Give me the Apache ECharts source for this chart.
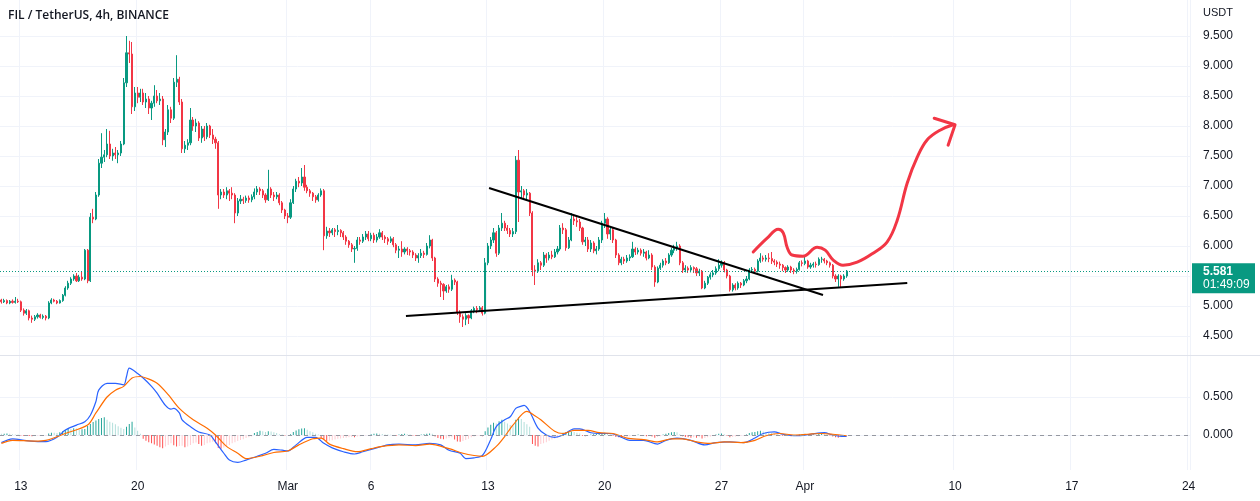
<!DOCTYPE html>
<html><head><meta charset="utf-8">
<script src="https://cdn.jsdelivr.net/npm/echarts/dist/echarts.min.js"></script>
<style>html,body{margin:0;padding:0;background:#fff}#c{width:1260px;height:501px}</style>
</head><body><div id="c"></div>
<script>
// ---- data ----
const opens = [
5.10,5.07,5.09,5.05,5.08,5.06,5.08,5.07,4.93,4.88,
4.92,4.80,4.78,4.82,4.85,4.81,4.83,4.80,5.05,5.10,
5.08,5.05,5.09,5.18,5.30,5.38,5.45,5.50,5.42,5.48,
5.45,5.93,5.42,6.48,6.45,6.85,7.38,7.48,7.52,7.70,
7.50,7.55,7.52,7.55,7.70,8.72,9.22,9.20,8.32,8.55,
8.48,8.55,8.40,8.45,8.30,8.38,8.50,8.42,8.45,7.77,
7.90,8.27,8.13,8.73,8.78,8.40,7.62,7.68,7.72,8.10,
8.00,8.05,7.80,7.95,7.82,8.00,7.85,7.78,7.72,6.85,
6.90,6.85,6.92,6.88,6.85,6.55,6.75,6.78,6.76,6.80,
6.77,6.82,6.90,6.95,6.92,6.85,6.77,6.95,6.85,6.82,
6.85,6.72,6.60,6.50,6.48,6.72,6.95,7.08,7.05,7.15,
6.98,6.92,6.88,6.82,6.77,6.85,6.92,6.17,6.25,6.22,
6.27,6.24,6.26,6.22,6.15,6.08,6.02,5.95,5.96,6.10,
6.08,6.15,6.20,6.12,6.18,6.10,6.15,6.22,6.15,6.12,
6.08,6.12,6.02,5.93,5.95,5.90,5.95,5.92,5.90,5.85,
5.80,5.84,5.88,5.86,6.00,6.10,5.80,5.45,5.38,5.36,
5.25,5.32,5.28,5.43,5.40,4.90,4.82,4.78,4.84,4.80,
4.92,4.96,4.94,4.97,4.88,5.72,6.00,6.10,6.22,5.88,
6.30,6.38,6.30,6.26,6.20,6.24,7.43,6.90,6.92,6.85,
6.88,6.55,5.60,5.58,5.72,5.68,5.85,5.80,5.85,5.82,
5.90,5.95,6.30,6.27,5.97,6.10,6.45,6.42,6.40,6.30,
6.07,6.10,5.95,6.05,5.92,5.95,6.10,6.38,6.45,6.20,
6.27,6.10,5.85,5.72,5.78,5.75,5.80,5.82,5.95,5.90,
5.93,5.88,5.90,5.80,5.85,5.65,5.40,5.63,5.68,5.75,
5.72,5.85,5.93,5.97,6.00,5.72,5.60,5.63,5.60,5.64,
5.62,5.55,5.58,5.30,5.38,5.48,5.52,5.55,5.62,5.68,
5.72,5.60,5.50,5.27,5.35,5.30,5.38,5.35,5.42,5.45,
5.60,5.61,5.58,5.75,5.80,5.78,5.80,5.79,5.75,5.73,
5.70,5.68,5.64,5.60,5.65,5.60,5.58,5.61,5.72,5.71,
5.75,5.65,5.68,5.70,5.69,5.78,5.78,5.75,5.72,5.68,
5.50,5.45,5.50,5.45,5.50];
const closes = [
5.07,5.09,5.05,5.08,5.06,5.08,5.07,4.93,4.88,4.92,
4.80,4.78,4.82,4.85,4.81,4.83,4.80,5.05,5.10,5.08,
5.05,5.09,5.18,5.30,5.38,5.45,5.50,5.42,5.48,5.45,
5.93,5.42,6.48,6.45,6.85,7.38,7.48,7.52,7.70,7.50,
7.55,7.52,7.55,7.70,8.72,9.22,9.20,8.32,8.55,8.48,
8.55,8.40,8.45,8.30,8.38,8.50,8.42,8.45,7.77,7.90,
8.27,8.13,8.73,8.78,8.40,7.62,7.68,7.72,8.10,8.00,
8.05,7.80,7.95,7.82,8.00,7.85,7.78,7.72,6.85,6.90,
6.85,6.92,6.88,6.85,6.55,6.75,6.78,6.76,6.80,6.77,
6.82,6.90,6.95,6.92,6.85,6.77,6.95,6.85,6.82,6.85,
6.72,6.60,6.50,6.48,6.72,6.95,7.08,7.05,7.15,6.98,
6.92,6.88,6.82,6.77,6.85,6.92,6.17,6.25,6.22,6.27,
6.24,6.26,6.22,6.15,6.08,6.02,5.95,5.96,6.10,6.08,
6.15,6.20,6.12,6.18,6.10,6.15,6.22,6.15,6.12,6.08,
6.12,6.02,5.93,5.95,5.90,5.95,5.92,5.90,5.85,5.80,
5.84,5.88,5.86,6.00,6.10,5.80,5.45,5.38,5.36,5.25,
5.32,5.28,5.43,5.40,4.90,4.82,4.78,4.84,4.80,4.92,
4.96,4.94,4.97,4.88,5.72,6.00,6.10,6.22,5.88,6.30,
6.38,6.30,6.26,6.20,6.24,7.43,6.90,6.92,6.85,6.88,
6.55,5.60,5.58,5.72,5.68,5.85,5.80,5.85,5.82,5.90,
5.95,6.30,6.27,5.97,6.10,6.45,6.42,6.40,6.30,6.07,
6.10,5.95,6.05,5.92,5.95,6.10,6.38,6.45,6.20,6.27,
6.10,5.85,5.72,5.78,5.75,5.80,5.82,5.95,5.90,5.93,
5.88,5.90,5.80,5.85,5.65,5.40,5.63,5.68,5.75,5.72,
5.85,5.93,5.97,6.00,5.72,5.60,5.63,5.60,5.64,5.62,
5.55,5.58,5.30,5.38,5.48,5.52,5.55,5.62,5.68,5.72,
5.60,5.50,5.27,5.35,5.30,5.38,5.35,5.42,5.45,5.60,
5.61,5.58,5.75,5.80,5.78,5.80,5.79,5.75,5.73,5.70,
5.68,5.64,5.60,5.65,5.60,5.58,5.61,5.72,5.71,5.75,
5.65,5.68,5.70,5.69,5.78,5.78,5.75,5.72,5.68,5.50,
5.45,5.50,5.45,5.50,5.581];
const highs = [
5.12,5.12,5.11,5.10,5.11,5.15,5.12,5.09,4.96,4.95,
4.94,4.84,4.85,4.88,4.87,4.86,4.85,5.08,5.13,5.12,
5.10,5.11,5.20,5.33,5.42,5.48,5.53,5.55,5.52,5.58,
5.95,5.95,6.55,6.62,6.90,7.45,7.88,7.60,7.95,7.92,
7.62,7.65,7.60,7.75,8.80,9.50,9.42,9.40,8.65,8.65,
8.62,8.62,8.55,8.50,8.42,8.68,8.60,8.55,8.50,7.95,
8.35,8.32,8.80,9.18,8.82,8.45,7.75,7.78,8.30,8.15,
8.12,8.08,8.00,8.00,8.05,8.02,7.95,7.82,7.75,6.95,
6.95,6.98,6.95,6.98,6.88,6.80,6.85,6.82,6.84,6.84,
6.86,6.96,7.00,6.98,6.95,6.88,7.27,6.98,6.90,6.90,
6.88,6.75,6.62,6.55,6.78,7.00,7.12,7.15,7.30,7.35,
7.02,6.95,6.90,6.85,6.88,6.96,6.95,6.32,6.30,6.30,
6.30,6.35,6.28,6.25,6.18,6.10,6.05,6.00,6.15,6.15,
6.20,6.25,6.25,6.22,6.22,6.20,6.28,6.25,6.18,6.15,
6.16,6.15,6.05,6.00,6.08,5.98,5.98,5.95,5.93,5.88,
5.88,5.95,5.92,6.05,6.18,6.12,5.82,5.48,5.42,5.38,
5.35,5.36,5.52,5.46,5.42,4.93,4.86,4.88,4.86,4.95,
4.99,5.00,5.00,5.00,5.80,6.05,6.15,6.30,6.25,6.35,
6.55,6.42,6.35,6.30,6.30,7.50,7.60,7.00,6.95,6.95,
6.90,6.58,5.68,5.78,5.75,5.90,5.88,5.90,5.92,5.95,
6.00,6.35,6.38,6.30,6.15,6.55,6.50,6.48,6.45,6.32,
6.15,6.15,6.10,6.08,6.00,6.15,6.42,6.55,6.48,6.32,
6.30,6.12,5.88,5.82,5.82,5.85,5.86,6.07,5.98,5.97,
5.96,5.95,5.92,5.93,5.88,5.68,5.66,5.72,5.78,5.80,
5.88,5.97,6.02,6.07,6.03,5.75,5.68,5.66,5.68,5.66,
5.65,5.62,5.60,5.42,5.50,5.56,5.60,5.66,5.78,5.76,
5.75,5.62,5.52,5.38,5.38,5.41,5.40,5.45,5.50,5.63,
5.65,5.64,5.78,5.88,5.84,5.85,5.88,5.90,5.78,5.76,
5.74,5.70,5.66,5.68,5.67,5.63,5.64,5.75,5.76,5.82,
5.77,5.72,5.73,5.74,5.81,5.82,5.80,5.77,5.74,5.70,
5.53,5.53,5.52,5.53,5.60];
const lows = [
5.04,5.05,5.03,5.03,5.04,5.04,5.05,4.90,4.84,4.85,
4.76,4.72,4.75,4.79,4.79,4.78,4.76,4.78,5.03,5.06,
5.03,5.04,5.07,5.16,5.27,5.35,5.42,5.40,5.40,5.42,
5.43,5.38,5.40,6.38,6.43,6.82,7.30,7.40,7.48,7.45,
7.42,7.45,7.38,7.50,7.68,8.65,9.05,8.20,8.25,8.38,
8.40,8.35,8.30,8.20,8.10,8.32,8.38,8.35,7.68,7.65,
7.85,8.05,8.10,8.65,8.35,7.55,7.55,7.60,7.68,7.92,
7.90,7.75,7.72,7.75,7.78,7.80,7.70,7.62,6.62,6.78,
6.80,6.78,6.75,6.78,6.38,6.50,6.70,6.70,6.72,6.72,
6.73,6.78,6.85,6.85,6.80,6.72,6.75,6.80,6.75,6.78,
6.68,6.55,6.45,6.38,6.45,6.70,6.90,6.98,7.00,6.92,
6.88,6.82,6.75,6.72,6.74,6.82,5.93,6.12,6.15,6.18,
6.15,6.18,6.15,6.10,6.02,5.97,5.90,5.72,5.92,6.02,
6.05,6.10,6.08,6.08,6.05,6.06,6.12,6.10,6.05,6.02,
6.05,5.98,5.88,5.80,5.82,5.86,5.85,5.84,5.80,5.75,
5.72,5.80,5.80,5.84,5.96,5.75,5.40,5.32,5.15,5.10,
5.22,5.22,5.25,5.35,4.85,4.72,4.65,4.68,4.70,4.78,
4.88,4.88,4.90,4.84,4.86,5.68,5.95,6.05,5.82,5.85,
6.25,6.25,6.20,6.15,6.15,6.20,6.40,6.80,6.78,6.75,
6.50,5.50,5.35,5.55,5.60,5.65,5.72,5.76,5.78,5.80,
5.86,5.92,6.20,5.92,5.95,6.08,6.35,6.32,6.25,6.02,
6.00,5.90,5.90,5.88,5.86,5.92,6.05,6.30,6.12,6.10,
6.05,5.80,5.68,5.68,5.70,5.72,5.75,5.80,5.85,5.86,
5.84,5.82,5.76,5.78,5.60,5.32,5.38,5.60,5.64,5.68,
5.70,5.82,5.88,5.92,5.68,5.55,5.56,5.55,5.56,5.55,
5.50,5.50,5.28,5.28,5.35,5.44,5.48,5.52,5.58,5.64,
5.56,5.46,5.24,5.24,5.26,5.27,5.30,5.33,5.38,5.43,
5.55,5.54,5.56,5.72,5.74,5.74,5.73,5.70,5.68,5.65,
5.62,5.58,5.55,5.57,5.55,5.53,5.54,5.59,5.66,5.68,
5.62,5.62,5.64,5.64,5.67,5.72,5.71,5.68,5.64,5.46,
5.40,5.32,5.30,5.42,5.47];
// MACD histogram, in thousandths
const histogram = [
15,18,20,15,10,8,5,-5,-10,-8,
-12,-15,-10,-8,-10,-8,-5,20,30,28,
25,35,50,65,85,80,90,85,70,75,
80,120,145,170,190,210,225,235,200,175,
160,140,115,95,80,110,145,175,100,55,
15,-50,-75,-95,-110,-125,-140,-160,-175,-150,
-130,-110,-135,-150,-145,-140,-160,-150,-130,-110,
-100,-120,-140,-130,-110,-100,-90,-110,-170,-180,
-165,-150,-130,-110,-95,-80,-65,-55,-40,-30,
-20,25,40,55,50,40,50,45,35,25,
10,5,-5,-3,10,40,60,75,85,90,
70,50,35,15,5,-40,-60,-80,-75,-70,
-60,-50,-45,-40,-35,-30,-25,-30,-20,-15,
-10,-8,-5,10,15,20,18,12,8,5,
3,-5,-10,8,12,15,10,5,-5,-10,
-8,5,10,15,20,15,-20,-40,-50,-55,
-45,-35,-30,-60,-85,-90,-80,-65,-50,-30,
-20,-10,-5,-15,50,100,135,160,150,180,
200,175,150,130,120,200,230,210,170,140,
110,-120,-140,-150,-120,-110,-95,-75,-60,-45,
-35,-20,30,35,40,45,40,30,20,-10,
-15,-8,5,10,15,20,25,30,20,10,
-10,-25,-30,-35,-30,-25,-15,-10,-5,5,
-5,-10,-15,-10,-20,-35,-25,-15,5,15,
25,35,40,35,10,-15,-25,-30,-35,-30,
-35,-30,-45,-40,-30,-20,-10,5,15,20,
10,-10,-30,-25,-20,-15,-10,-5,5,25,
35,40,50,55,45,40,35,25,15,5,
-5,-10,-12,-10,-15,-12,-8,5,10,15,
10,8,10,5,12,15,10,5,-5,-20,
-30,-35,-30,-25,-15];
// MACD and signal lines, read at [candle index, value]
const macdPoints = [[0,-0.10],[4,-0.05],[9,-0.075],[14,-0.088],[16,-0.088],[20,-0.03],[23,0.065],[27,0.13],[30,0.175],[32,0.26],[34,0.44],[35,0.59],[38,0.68],[41,0.68],[44,0.66],[45,0.77],[46,0.88],[49,0.81],[51,0.75],[54,0.64],[56,0.55],[59,0.39],[61,0.34],[62,0.35],[64,0.29],[65,0.20],[68,0.11],[71,0.04],[75,0.0],[77,-0.09],[80,-0.24],[82,-0.33],[85,-0.36],[88,-0.33],[92,-0.28],[95,-0.24],[98,-0.19],[101,-0.20],[103,-0.21],[106,-0.13],[110,-0.03],[113,-0.03],[116,-0.11],[119,-0.17],[123,-0.22],[127,-0.25],[130,-0.22],[134,-0.18],[139,-0.13],[143,-0.12],[149,-0.13],[154,-0.11],[158,-0.13],[161,-0.20],[165,-0.24],[167,-0.31],[170,-0.30],[173,-0.27],[176,-0.06],[178,0.11],[181,0.20],[183,0.24],[185,0.35],[187,0.38],[188,0.39],[190,0.31],[193,0.09],[196,0.0],[199,-0.03],[202,0.0],[206,0.08],[208,0.08],[212,0.03],[215,0.02],[219,0.02],[223,-0.03],[226,-0.07],[231,-0.07],[236,-0.12],[239,-0.07],[243,-0.04],[248,-0.07],[253,-0.13],[257,-0.10],[262,-0.09],[267,-0.10],[271,-0.04],[274,0.02],[278,0.04],[281,0.01],[286,-0.01],[291,0.01],[296,0.03],[299,0.0],[303,-0.02],[304,-0.02]];
const signalPoints = [[0,-0.11],[4,-0.07],[12,-0.08],[16,-0.07],[23,0.02],[31,0.13],[34,0.29],[38,0.50],[41,0.59],[44,0.64],[47,0.75],[50,0.77],[52,0.75],[56,0.68],[60,0.53],[64,0.35],[69,0.20],[74,0.09],[77,0.0],[81,-0.15],[85,-0.24],[88,-0.31],[93,-0.28],[98,-0.23],[103,-0.21],[107,-0.13],[112,-0.05],[115,-0.04],[118,-0.12],[123,-0.18],[128,-0.22],[133,-0.18],[137,-0.15],[143,-0.13],[149,-0.14],[154,-0.12],[161,-0.18],[166,-0.24],[170,-0.27],[173,-0.28],[178,-0.15],[181,-0.02],[184,0.13],[189,0.31],[192,0.25],[194,0.20],[199,0.05],[202,0.02],[206,0.06],[211,0.06],[215,0.03],[220,0.02],[225,-0.04],[231,-0.06],[236,-0.09],[241,-0.05],[245,-0.05],[250,-0.09],[255,-0.11],[260,-0.09],[266,-0.10],[271,-0.07],[275,-0.01],[280,0.02],[285,0.0],[290,0.01],[295,0.02],[299,0.01],[304,-0.01]];
// drawings (candle index, price)
const upperTrend = [[175.4,6.967],[295.5,5.183]];
const lowerTrend = [[145.5,4.833],[325.8,5.383]];
const projection = [[270.4,5.90],[275.4,6.13],[279.4,6.28],[281.2,6.22],[282.6,5.98],[284.4,5.85],[288.3,5.83],[293.4,5.98],[296.3,5.93],[299.1,5.77],[302.7,5.68],[307.8,5.73],[313.5,5.88],[318.6,6.07],[322.2,6.43],[325.8,7.05],[329.4,7.48],[333.0,7.77],[337.6,7.93],[342.3,8.02]];
const arrowHead = [[335.5,8.13],[343.0,8.02],[340.5,7.68]];
const tickDates = ['2023-02-13','2023-02-20','2023-03-01','2023-03-06','2023-03-13','2023-03-20','2023-03-27','2023-04-01','2023-04-10','2023-04-17','2023-04-24'];
const tickLabels = ['13','20','Mar','6','13','20','27','Apr','10','17','24'];
const lastPrice = 5.581;
const countdown = '01:49:09';
const SLOTS = 428;

// ---- build ----
const categories = [];
const t0 = Date.UTC(2023, 1, 11, 20);
for (let k = 0; k < SLOTS; k++) {
  const s = new Date(t0 + k * 4 * 3600000).toISOString();
  categories.push(s.slice(0, 10) + ' ' + s.slice(11, 16));
}
const tickMap = {};
tickDates.forEach((d, j) => { tickMap[d + ' 00:00'] = tickLabels[j]; });
const isTick = v => tickMap[v] !== undefined;

const candles = closes.map((c, i) => [opens[i], c, lows[i], highs[i]]);
const histData = histogram.map((h, i) => {
  const prev = i > 0 ? histogram[i - 1] : h;
  let col;
  if (h >= 0) col = prev < h ? '#26a69a' : '#b2dfdb';
  else col = prev < h ? '#ffcdd2' : '#ff5252';
  return { value: h / 1000, itemStyle: { color: col } };
});

const FONT = 'Liberation Sans';
const TXT = '#131722';
const GRIDC = '#f0f3fa';
const UP = '#089981';
const DOWN = '#f23645';
const chart = echarts.init(document.getElementById('c'), null, { renderer: 'canvas' });
const option = {
  animation: false,
  backgroundColor: '#ffffff',
  title: { text: 'FIL / TetherUS, 4h, BINANCE', left: 8, top: 10, padding: 0,
    textStyle: { fontSize: 12, fontWeight: 600, color: TXT, fontFamily: 'Open Sans' } },
  grid: [
    { left: 0, top: 0, width: 1190, height: 470 },
    { left: 0, top: 36, width: 1190, height: 300 },
    { left: 0, top: 397, width: 1190, height: 38 }
  ],
  xAxis: [
    { type: 'category', gridIndex: 0, data: categories, boundaryGap: true,
      axisLine: { show: false }, axisTick: { show: false },
      axisLabel: { interval: (i, v) => isTick(v), formatter: v => tickMap[v] || '', margin: 11,
        color: TXT, fontSize: 12, fontFamily: FONT },
      splitLine: { show: true, interval: (i, v) => isTick(v), lineStyle: { color: GRIDC, width: 1 } } },
    { type: 'category', gridIndex: 1, data: categories, show: false },
    { type: 'value', gridIndex: 1, min: -0.5, max: SLOTS - 0.5, show: false },
    { type: 'category', gridIndex: 2, data: categories, show: false }
  ],
  yAxis: [
    { type: 'value', gridIndex: 0, show: false },
    { type: 'value', gridIndex: 1, position: 'right', min: 4.5, max: 9.5, interval: 0.5,
      axisLine: { show: false }, axisTick: { show: false },
      axisLabel: { margin: 13, color: TXT, fontSize: 12, fontFamily: FONT, formatter: v => v.toFixed(3) },
      splitLine: { lineStyle: { color: GRIDC } } },
    { type: 'value', gridIndex: 2, position: 'right', min: 0, max: 0.5, interval: 0.5,
      axisLine: { show: false }, axisTick: { show: false },
      axisLabel: { margin: 13, color: TXT, fontSize: 12, fontFamily: FONT, formatter: v => v.toFixed(3) },
      splitLine: { lineStyle: { color: GRIDC } } }
  ],
  series: [
    { type: 'candlestick', xAxisIndex: 1, yAxisIndex: 1, data: candles, barWidth: 1.6, clip: false,
      itemStyle: { color: UP, color0: DOWN, borderColor: UP, borderColor0: DOWN, borderWidth: 1 },
      markLine: { symbol: 'none', silent: true, label: { show: false },
        lineStyle: { color: UP, type: [1, 2], width: 1 }, data: [{ yAxis: lastPrice }] } },
    { type: 'line', xAxisIndex: 2, yAxisIndex: 1, data: upperTrend, symbol: 'none', silent: true,
      lineStyle: { color: '#000000', width: 2 } },
    { type: 'line', xAxisIndex: 2, yAxisIndex: 1, data: lowerTrend, symbol: 'none', silent: true,
      lineStyle: { color: '#000000', width: 2 } },
    { type: 'line', xAxisIndex: 2, yAxisIndex: 1, data: projection, symbol: 'none', smooth: 0.4, silent: true,
      lineStyle: { color: '#f23645', width: 3, cap: 'round', join: 'round' } },
    { type: 'line', xAxisIndex: 2, yAxisIndex: 1, data: arrowHead, symbol: 'none', silent: true,
      lineStyle: { color: '#f23645', width: 3, cap: 'round', join: 'round' } },
    { type: 'bar', xAxisIndex: 3, yAxisIndex: 2, data: histData, barWidth: 1, clip: false,
      markLine: { symbol: 'none', silent: true, label: { show: false },
        lineStyle: { color: '#9598a1', type: [4, 4], width: 1 }, data: [{ yAxis: 0 }] } },
    { type: 'line', xAxisIndex: 3, yAxisIndex: 2, data: macdPoints, symbol: 'none', smooth: 0.3, clip: false,
      lineStyle: { color: '#2962ff', width: 1.2 } },
    { type: 'line', xAxisIndex: 3, yAxisIndex: 2, data: signalPoints, symbol: 'none', smooth: 0.3, clip: false,
      lineStyle: { color: '#ff6d00', width: 1.2 } }
  ]
};
chart.setOption(option);
const yp = chart.convertToPixel({ yAxisIndex: 1 }, lastPrice);
chart.setOption({
  graphic: [
    { type: 'line', silent: true, z: 50, shape: { x1: 0, y1: 355.5, x2: 1260, y2: 355.5 }, style: { stroke: '#e0e3eb', lineWidth: 1 } },
    { type: 'text', silent: true, z: 50, x: 1203, y: 13, style: { text: 'USDT', fill: TXT, fontSize: 11, fontFamily: FONT, verticalAlign: 'middle', align: 'left' } },
    { type: 'rect', silent: true, z: 100, shape: { x: 1192, y: yp - 8, width: 63, height: 30 }, style: { fill: UP } },
    { type: 'text', silent: true, z: 101, x: 1203, y: yp + 1, style: { text: lastPrice.toFixed(3), fill: '#ffffff', fontSize: 12, fontFamily: FONT, fontWeight: 'bold', verticalAlign: 'middle', align: 'left' } },
    { type: 'text', silent: true, z: 101, x: 1203, y: yp + 14, style: { text: countdown, fill: '#ffffff', fontSize: 12, fontFamily: FONT, verticalAlign: 'middle', align: 'left' } }
  ]
});
</script></body></html>
